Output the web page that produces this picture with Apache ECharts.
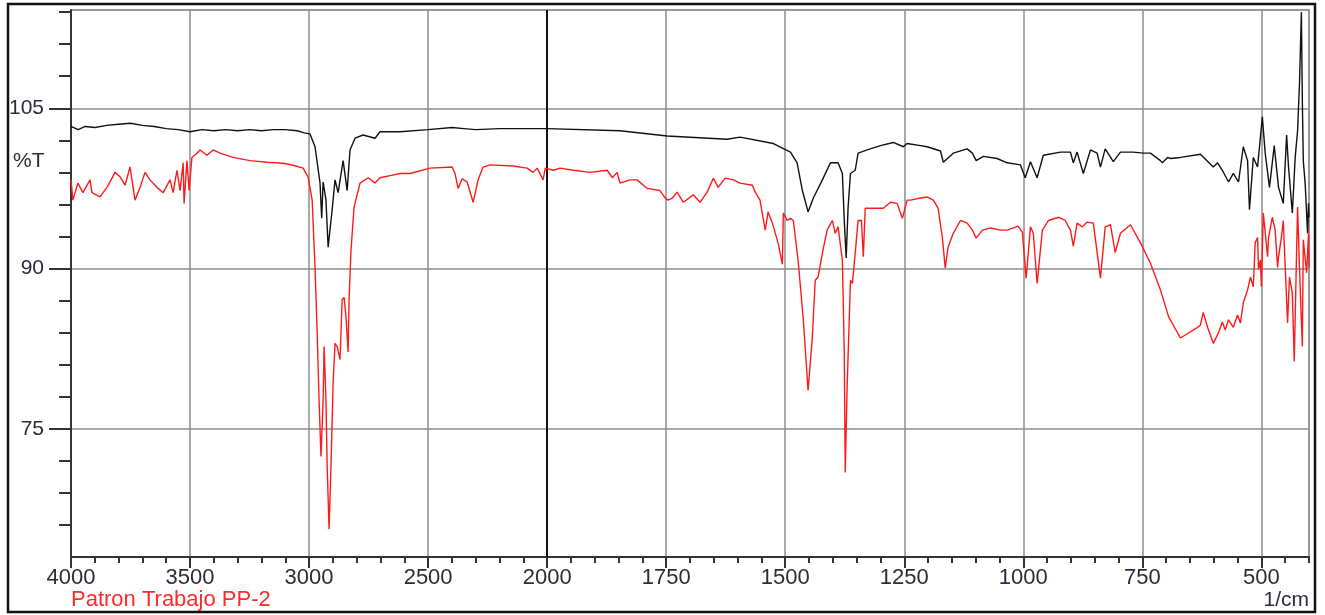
<!DOCTYPE html>
<html>
<head>
<meta charset="utf-8">
<script src="https://cdn.jsdelivr.net/npm/echarts@6/dist/echarts.min.js"></script>
<style>
html,body{margin:0;padding:0;background:#fff;}
#chart{width:1325px;height:615px;}
</style>
</head>
<body>
<div id="chart"></div>
<script>
// ---- data (wavenumber in 1/cm, transmittance in %T) ----
const seriesNames = ['Referencia', 'Patron Trabajo PP-2'];

const blackWn = [4000,3970,3940,3900,3850,3800,3750,3700,3650,3600,3550,3500,3450,3400,3350,3300,3250,3200,3150,3100,
3050,3020,2996,2975,2954,2947,2941,2929,2920,2903,2891,2878,2857,2840,2828,2807,2773,2723,2702,2618,
2500,2400,2350,2300,2200,2100,2000,1847,1748,1622,1595,1525,1489,1475,1464,1452,1441,1422,1405,1389,
1380,1376,1372,1368,1363,1353,1347,1328,1300,1273,1252,1244,1216,1202,1174,1168,1147,1118,1107,1099,
1084,1055,1034,1006,996,985,971,958,922,901,895,887,874,859,845,838,828,811,796,769,
748,733,712,708,697,691,670,628,601,592,582,569,559,548,538,529,525,517,508,498,
492,483,473,464,454,447,443,435,429,424,420,416,414,412,408,403,401,400];
const blackT = [103.3,103.0,103.3,103.2,103.4,103.5,103.6,103.4,103.3,103.1,103.0,102.8,103.0,102.9,103.0,102.9,103.0,102.9,103.0,103.0,
102.9,102.7,102.6,101.4,98.0,94.7,98.1,96.4,92.0,95.5,98.3,97.1,100.1,97.3,101.1,102.2,102.5,102.2,102.8,102.8,
103.0,103.2,103.1,103.0,103.1,103.1,103.1,102.9,102.4,102.1,102.3,101.7,100.9,99.9,97.3,95.3,96.6,98.3,99.9,99.9,
98.9,94.5,91.0,95.7,98.9,99.2,100.8,101.1,101.5,101.8,101.4,101.7,101.5,101.4,101.0,99.95,100.8,101.2,100.8,100.1,
100.5,100.3,99.9,99.7,98.5,100.0,98.5,100.6,100.9,100.9,99.9,100.9,98.9,101.1,100.8,99.5,101.2,100.0,100.9,100.9,
100.8,100.8,100.1,99.9,100.4,100.3,100.4,100.7,99.5,99.9,99.2,98.1,98.9,98.1,101.4,100.1,95.5,100.4,99.5,104.2,
100.8,97.6,101.5,97.6,96.1,102.5,99.5,95.2,100.4,102.9,107.3,114.0,105.7,100.1,97.9,93.3,96.1,94.8];

const redWn = [4000,3992,3971,3950,3920,3912,3878,3849,3815,3794,
3773,3752,3731,3710,3689,3668,3639,3613,3584,3571,
3555,3542,3529,3525,3513,3504,3492,3471,3458,3429,
3403,3374,3319,3248,3176,3109,3067,3025,3004,2987,
2975,2966,2958,2950,2941,2937,2929,2924,2916,2908,
2899,2891,2882,2870,2861,2853,2845,2836,2832,2824,
2811,2786,2752,2723,2702,2660,2618,2576,2492,2399,
2387,2374,2357,2336,2311,2290,2269,2239,2143,2084,
2059,2042,2017,2008,1987,1973,1945,1910,1874,1863,
1853,1847,1826,1811,1790,1763,1752,1746,1737,1727,
1714,1693,1679,1664,1651,1641,1626,1609,1595,1569,
1563,1553,1542,1536,1527,1515,1506,1504,1496,1489,
1483,1473,1462,1452,1443,1437,1431,1422,1412,1401,
1395,1389,1380,1376,1374,1370,1363,1359,1353,1347,
1340,1336,1332,1315,1294,1279,1265,1254,1244,1237,
1216,1202,1189,1179,1170,1164,1158,1147,1132,1118,
1107,1099,1086,1069,1048,1034,1011,1002,994,985,
979,971,960,947,926,912,901,895,887,876,
866,853,838,828,817,807,796,775,754,733,
712,695,670,634,628,622,613,601,597,590,
582,576,569,559,550,544,538,529,523,517,
513,508,506,502,500,496,487,485,477,471,
466,464,458,454,445,441,435,431,426,424,
420,414,412,405,401,400];
const redT = [98.3,96.4,98.0,97.1,98.3,97.1,96.7,97.6,99.0,98.6,
97.8,99.5,96.4,97.6,99.0,98.3,97.6,97.1,98.3,97.1,
99.2,97.3,99.9,96.1,100.1,97.3,100.4,100.8,101.1,100.6,
101.1,100.8,100.4,100.1,99.95,99.86,99.67,99.4,98.55,96.4,
90.1,84.0,77.7,72.4,77.7,82.7,77.7,71.5,65.6,71.5,
79.3,83.0,82.7,81.5,87.1,87.3,85.5,82.2,87.1,91.7,
95.75,98.0,98.5,98.0,98.5,98.7,98.9,98.9,99.4,99.5,
98.9,97.5,98.4,98.1,96.2,98.3,99.5,99.7,99.6,99.4,
99.0,99.4,98.3,99.4,99.2,99.4,99.2,99.0,99.2,98.5,
99.0,98.0,98.3,98.3,97.5,97.3,96.6,96.4,96.6,97.15,
96.2,96.9,96.2,97.15,98.46,97.6,98.46,98.3,98.0,97.8,
97.15,96.4,93.6,95.3,94.25,92.4,90.4,95.2,94.5,94.7,
94.5,90.8,85.2,78.6,83.6,88.9,89.2,91.45,93.6,94.5,
93.3,93.9,90.8,82.1,70.9,78.9,88.9,88.6,91.45,94.5,
94.5,91.1,95.65,95.65,95.65,96.2,96.1,94.7,96.4,96.4,
96.6,96.7,96.4,95.65,92.9,90.05,92.0,93.3,94.5,94.25,
93.6,92.85,93.6,93.8,93.6,93.6,93.97,93.4,89.1,93.9,
93.3,88.6,93.6,94.5,94.8,94.5,93.6,92.1,94.25,93.9,
94.35,94.25,89.1,93.9,94.1,91.5,93.3,94.1,92.4,90.5,
88.0,85.5,83.5,84.5,84.7,85.9,84.5,83.0,83.0,84.0,
85.0,84.25,85.2,84.5,85.65,84.9,86.8,88.0,89.2,88.3,
92.4,92.9,89.9,90.8,88.3,95.2,91.1,92.9,94.8,93.6,
90.1,91.1,92.9,94.5,84.9,89.2,87.7,81.3,91.7,95.75,
90.1,82.7,92.7,89.6,93.3,90.1];

// ---- ticks ----
const xMajorTicks = [4000,3500,3000,2500,2000,1750,1500,1250,1000,750,500];
const xMinorTicks = [3900,3800,3700,3600,3400,3300,3200,3100,2900,2800,2700,2600,2400,2300,2200,2100,
  1950,1900,1850,1800,1700,1650,1600,1550,1450,1400,1350,1300,1200,1150,1100,1050,950,900,850,800,700,650,600,550,450,400];
const yMajorTicks = [75,90,105];
const yMinorTicks = [66,69,72,78,81,84,87,93,96,99,102,108,111,114];
const xRange = [400, 4000];
const yRange = [63, 114.2];
const scaleBreak = 2000; // scale halves above this wavenumber

// piecewise-linear axis (instrument plots 4000-2000 at half the scale)
const toP = w => (w > scaleBreak ? scaleBreak + (w - scaleBreak) / 2 : w);
const fromP = p => (p > scaleBreak ? scaleBreak + (p - scaleBreak) * 2 : p);

const blackData = blackWn.map((w, i) => [toP(w), blackT[i]]);
const redData = redWn.map((w, i) => [toP(w), redT[i]]);

const FONT = 'Liberation Sans, Arial, sans-serif';
const TXT = '#2c2c3c';
const AX = '#333333';

const chart = echarts.init(document.getElementById('chart'), null, {renderer: 'canvas'});
chart.setOption({
  animation: false,
  backgroundColor: '#ffffff',
  textStyle: {fontFamily: FONT},
  grid: {left: 71, right: 16, top: 10, bottom: 58, show: true, borderColor: '#7a7a7a', borderWidth: 1.5, containLabel: false},
  legend: {
    show: true, left: 66, top: 589, padding: 0, itemWidth: 0, itemHeight: 22, itemGap: 0,
    selectedMode: false,
    data: [{name: seriesNames[1], icon: 'none'}],
    textStyle: {color: '#ff2a2a', fontSize: 22, fontFamily: FONT}
  },
  xAxis: [
    {
      type: 'value', position: 'bottom', inverse: true,
      min: toP(xRange[0]), max: toP(xRange[1]),
      axisLine: {show: true, onZero: false, lineStyle: {color: AX, width: 2}},
      axisTick: {show: true, customValues: xMajorTicks.map(toP), length: 11, lineStyle: {color: AX, width: 2}},
      axisLabel: {customValues: xMajorTicks.map(toP), formatter: v => String(Math.round(fromP(v))),
        fontSize: 22, color: TXT, margin: 10, fontFamily: FONT},
      splitLine: {show: true, lineStyle: {color: '#8e8e8e', width: 1.5}}
    },
    {
      type: 'value', position: 'bottom', inverse: true,
      min: toP(xRange[0]), max: toP(xRange[1]),
      axisLine: {show: false},
      axisTick: {show: true, customValues: xMinorTicks.map(toP), length: 6, lineStyle: {color: AX, width: 2}},
      axisLabel: {show: false},
      splitLine: {show: false}
    }
  ],
  yAxis: [
    {
      type: 'value', position: 'left', min: yRange[0], max: yRange[1],
      axisLine: {show: true, onZero: false, lineStyle: {color: AX, width: 2}},
      axisTick: {show: true, customValues: yMajorTicks, length: 22, lineStyle: {color: AX, width: 2}},
      axisLabel: {customValues: yMajorTicks, fontSize: 21, color: TXT, margin: 27, fontFamily: FONT},
      splitLine: {show: true, lineStyle: {color: '#8e8e8e', width: 1.5}}
    },
    {
      type: 'value', position: 'left', min: yRange[0], max: yRange[1],
      axisLine: {show: false},
      axisTick: {show: true, customValues: yMinorTicks, length: 12, lineStyle: {color: AX, width: 2}},
      axisLabel: {show: false},
      splitLine: {show: false}
    }
  ],
  series: [
    {
      name: seriesNames[0], type: 'line', xAxisIndex: 0, yAxisIndex: 0,
      data: blackData, showSymbol: false, symbol: 'none', clip: true,
      lineStyle: {color: '#111111', width: 1.4}, itemStyle: {color: '#111111'},
      z: 3,
      markLine: {
        silent: true, symbol: 'none', z: 1, animation: false,
        label: {show: false},
        lineStyle: {color: '#111111', width: 2, type: 'solid'},
        data: [{xAxis: toP(scaleBreak)}]
      }
    },
    {
      name: seriesNames[1], type: 'line', xAxisIndex: 0, yAxisIndex: 0,
      data: redData, showSymbol: false, symbol: 'none', clip: true,
      lineStyle: {color: '#ff1a1a', width: 1.4}, itemStyle: {color: '#ff1a1a'},
      z: 4
    }
  ],
  graphic: [
    {type: 'text', left: 13, top: 151, silent: true,
      style: {text: '%T', fontSize: 21, fill: TXT, font: '21px ' + FONT}},
    {type: 'text', right: 1325 - 1309, top: 590, silent: true,
      style: {text: '1/cm', fontSize: 21, fill: TXT, font: '21px ' + FONT}},
    {type: 'rect', silent: true, z: 100,
      shape: {x: 8, y: 4, width: 1307, height: 608},
      style: {fill: 'none', stroke: '#111111', lineWidth: 2.5}}
  ]
});
</script>
</body>
</html>
